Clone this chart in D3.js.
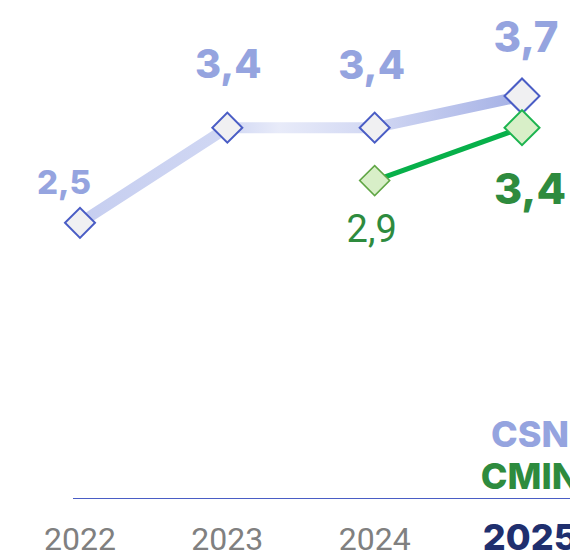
<!DOCTYPE html>
<html>
<head>
<meta charset="utf-8">
<script src="https://cdn.jsdelivr.net/npm/d3@7"></script>
<style>
  html, body { margin: 0; padding: 0; background: #fff; overflow: hidden; }
  svg { display: block; }
</style>
</head>
<body>
<svg id="chart" width="570" height="557"></svg>
<script>
// ---- data ----
const years = ["2022", "2023", "2024", "2025"];
const csnYears = ["2022", "2023", "2024", "2025"];
const csnValues = [2.5, 3.4, 3.4, 3.7];
const cminYears = ["2024", "2025"];
const cminValues = [2.9, 3.4];
const seriesNames = ["CSN", "CMIN"];
const highlightYear = "2025";

// ---- layout / style config ----
const csnLabelOffsets = [[-16, -29], [1, -50], [-3, -49], [4, -44]];
const cminLabelOffsets = [[-3, 61], [8, 76]];

const svg = d3.select("#chart");
const W = 570, H = 557;

const x = d3.scalePoint().domain(years).range([80, 522]);
const y = d3.scaleLinear().domain([0, 3.7]).range([487, 96]);
const baseY = 498.5;

const fmt = v => d3.format(".1f")(v).replace(".", ",");

// gradient for CSN line
const defs = svg.append("defs");
const grad = defs.append("linearGradient")
  .attr("id", "csnGrad")
  .attr("gradientUnits", "userSpaceOnUse")
  .attr("x1", x("2022")).attr("x2", x("2025"))
  .attr("y1", 0).attr("y2", 0);
const gstops = [
  [0.00, "#c6cef0"],
  [0.33, "#d0d7f3"],
  [0.45, "#e8ebf9"],
  [0.66, "#d2d8f3"],
  [1.00, "#a4b0e5"]
];
grad.selectAll("stop").data(gstops).join("stop")
  .attr("offset", d => d[0]).attr("stop-color", d => d[1]);

// axis baseline
svg.append("line")
  .attr("x1", x("2022") - 7).attr("x2", W + 20)
  .attr("y1", baseY).attr("y2", baseY)
  .attr("stroke", "#4a5dc5").attr("stroke-width", 1)
  .attr("shape-rendering", "crispEdges");

// year labels
const hlShift = 8;
svg.append("g").selectAll("text").data(years).join("text")
  .attr("x", d => x(d) + (d === highlightYear ? hlShift : 0))
  .attr("y", 550)
  .attr("text-anchor", "middle")
  .attr("font-family", d => d === highlightYear ? "Inter, sans-serif" : "Roboto, sans-serif")
  .attr("font-weight", d => d === highlightYear ? 800 : 400)
  .attr("font-size", d => d === highlightYear ? 36 : 32)
  .attr("fill", d => d === highlightYear ? "#1f2f6e" : "#808080")
  .text(d => d);

// legend (centered on the highlight column)
const legendColors = ["#95a4df", "#2e8b3e"];
svg.append("g").selectAll("text").data(seriesNames).join("text")
  .attr("x", x(highlightYear) + hlShift)
  .attr("y", (d, i) => 447 + i * 42)
  .attr("text-anchor", "middle")
  .attr("font-family", "Inter, sans-serif")
  .attr("font-weight", 800)
  .attr("font-size", 36)
  .attr("fill", (d, i) => legendColors[i])
  .text(d => d);

// lines
const csnData = csnYears.map((yr, i) => ({ yr, v: csnValues[i] }));
const cminData = cminYears.map((yr, i) => ({ yr, v: cminValues[i] }));
const line = d3.line().x(d => x(d.yr)).y(d => y(d.v));

svg.append("path").datum(csnData)
  .attr("d", line)
  .attr("fill", "none")
  .attr("stroke", "url(#csnGrad)")
  .attr("stroke-width", 11)
  .attr("stroke-linejoin", "round");

svg.append("path").datum(cminData)
  .attr("d", line)
  .attr("fill", "none")
  .attr("stroke", "#07b04a")
  .attr("stroke-width", 5);

// diamonds
const diamond = (diag) => d3.symbol(d3.symbolSquare, diag * diag / 2)();

svg.append("g").selectAll("path").data(csnData).join("path")
  .attr("d", d => diamond(d.yr === highlightYear ? 35 : 30))
  .attr("transform", d => `translate(${x(d.yr)},${y(d.v)}) rotate(45)`)
  .attr("fill", "#f0f0f2")
  .attr("stroke", "#4a5dc5")
  .attr("stroke-width", 2);

svg.append("g").selectAll("path").data(cminData).join("path")
  .attr("d", d => diamond(d.yr === highlightYear ? 35 : 30))
  .attr("transform", d => `translate(${x(d.yr)},${y(d.v)}) rotate(45)`)
  .attr("fill", "#d8efc8")
  .attr("stroke", d => d.yr === highlightYear ? "#1db450" : "#60a645")
  .attr("stroke-width", d => d.yr === highlightYear ? 2 : 1.6);

// CSN labels
const csnSize = d3.scaleLinear().domain([2.5, 3.7]).range([33, 42]);
svg.append("g").selectAll("text").data(csnData).join("text")
  .attr("x", (d, i) => x(d.yr) + csnLabelOffsets[i][0])
  .attr("y", (d, i) => y(d.v) + csnLabelOffsets[i][1])
  .attr("text-anchor", "middle")
  .attr("font-family", "Inter, sans-serif")
  .attr("font-weight", 800)
  .attr("font-size", d => csnSize(d.v))
  .attr("fill", "#95a4df")
  .text(d => fmt(d.v));

// CMIN labels
svg.append("g").selectAll("text").data(cminData).join("text")
  .attr("x", (d, i) => x(d.yr) + cminLabelOffsets[i][0])
  .attr("y", (d, i) => y(d.v) + cminLabelOffsets[i][1])
  .attr("text-anchor", "middle")
  .attr("font-family", d => d.yr === highlightYear ? "Inter, sans-serif" : "Roboto, sans-serif")
  .attr("font-weight", d => d.yr === highlightYear ? 800 : 400)
  .attr("font-size", d => d.yr === highlightYear ? 43 : 38)
  .attr("fill", "#2e8b3e")
  .text(d => fmt(d.v));
</script>
</body>
</html>
